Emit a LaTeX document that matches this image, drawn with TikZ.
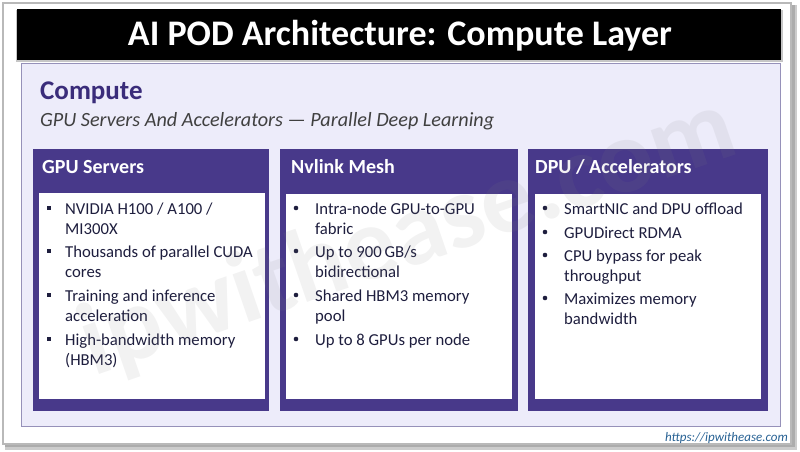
\documentclass[tikz,border=0pt]{standalone}
\usepackage{fontspec}
\setmainfont{Carlito}
\definecolor{cardpurple}{RGB}{72,57,138}
\definecolor{lav}{RGB}{237,236,250}
\definecolor{panelborder}{RGB}{150,145,185}
\definecolor{headpurple}{RGB}{58,44,122}
\definecolor{subgray}{RGB}{64,64,64}
\definecolor{bodytext}{RGB}{30,30,62}
\definecolor{urlblue}{RGB}{40,98,148}
\begin{document}
\begin{tikzpicture}[x=1pt,y=-1pt,
  ln/.style={anchor=base west, inner sep=0pt, text=bodytext, font=\fontsize{16.7}{20}\selectfont},
  sqb/.style={fill=bodytext, minimum size=4.2pt, inner sep=0pt},
  rdb/.style={circle, fill=bodytext, minimum size=4.6pt, inner sep=0pt},
  card/.style={fill=cardpurple},
  cardbody/.style={fill=white},
  hd/.style={anchor=base west, inner sep=0pt, text=white, font=\fontsize{20}{24}\selectfont\bfseries}]
\useasboundingbox (0,0) rectangle (800,452);
\fill[white] (0,0) rectangle (800,452);
% outer frame with shadow
\fill[gray!40] (5,5) rectangle (797,450);
\fill[gray!65] (5,5) rectangle (795,447);
\filldraw[fill=white, draw=gray!55, line width=1.2pt] (3,3) rectangle (791,444);
% title bar
\fill[gray!45] (16,10) rectangle (783,62);
\fill[black] (17,9) rectangle (781,60);
\node[anchor=base, inner sep=0pt, text=white, font=\fontsize{36}{40}\selectfont\bfseries] (title) at (400,46) {AI POD Architecture: Compute Layer};
% panel
\filldraw[fill=lav, draw=panelborder, line width=0.8pt] (21,63) rectangle (780,426);
\node[anchor=base west, inner sep=0pt, text=headpurple, font=\fontsize{27}{30}\selectfont\bfseries] (ctitle) at (40,99) {Compute};
\node[anchor=base west, inner sep=0pt, text=subgray, font=\fontsize{20.2}{22}\selectfont\itshape] (csub) at (40,126) {GPU Servers And Accelerators --- Parallel Deep Learning};
% cards
\fill[card] (33,149) rectangle (269,411);
\fill[cardbody] (39,193) rectangle (265,399);
\fill[card] (280,149) rectangle (518,411);
\fill[cardbody] (286,194) rectangle (512,399);
\fill[card] (528,149) rectangle (768,411);
\fill[cardbody] (535,194) rectangle (761,399);
\node[hd] (h1) at (42,173) {GPU Servers};
\node[hd] (h2) at (291,173) {Nvlink Mesh};
\node[hd] (h3) at (535,173) {DPU / Accelerators};
% card 1
\node[sqb] (b11) at (49,208) {};
\node[sqb] (b12) at (49,251) {};
\node[sqb] (b13) at (49,295) {};
\node[sqb] (b14) at (49,339) {};
\node[ln] (t11) at (65,214) {NVIDIA H100 / A100 /};
\node[ln] (t12) at (65,234) {MI300X};
\node[ln] (t13) at (65,257) {Thousands of parallel CUDA};
\node[ln] (t14) at (65,277) {cores};
\node[ln] (t15) at (65,301) {Training and inference};
\node[ln] (t16) at (65,321) {acceleration};
\node[ln] (t17) at (65,345) {High-bandwidth memory};
\node[ln] (t18) at (65,365) {(HBM3)};
% card 2
\node[rdb] (b21) at (296,208) {};
\node[rdb] (b22) at (296,251) {};
\node[rdb] (b23) at (296,295) {};
\node[rdb] (b24) at (296,339) {};
\node[ln] (t21) at (315,214) {Intra-node GPU-to-GPU};
\node[ln] (t22) at (315,234) {fabric};
\node[ln] (t23) at (315,257) {Up to 900\,GB/s};
\node[ln] (t24) at (315,277) {bidirectional};
\node[ln] (t25) at (315,301) {Shared HBM3 memory};
\node[ln] (t26) at (315,321) {pool};
\node[ln] (t27) at (315,345) {Up to 8 GPUs per node};
% card 3
\node[rdb] (b31) at (545,208) {};
\node[rdb] (b32) at (545,232) {};
\node[rdb] (b33) at (545,255) {};
\node[rdb] (b34) at (545,298) {};
\node[ln] (t31) at (564,214) {SmartNIC and DPU offload};
\node[ln] (t32) at (564,238) {GPUDirect RDMA};
\node[ln] (t33) at (564,261) {CPU bypass for peak};
\node[ln] (t34) at (564,281) {throughput};
\node[ln] (t35) at (564,304) {Maximizes memory};
\node[ln] (t36) at (564,324) {bandwidth};
% url
\node[anchor=base east, inner sep=0pt, text=urlblue, font=\fontsize{13}{16}\selectfont\itshape] (url) at (788,441) {https://ipwithease.com};
% watermark (faint, over everything)
\node[rotate=19, text=gray, opacity=0.10, font=\fontsize{104}{104}\selectfont\bfseries] (wm) at (408,238) {ipwithease.com};
\end{tikzpicture}
\end{document}
